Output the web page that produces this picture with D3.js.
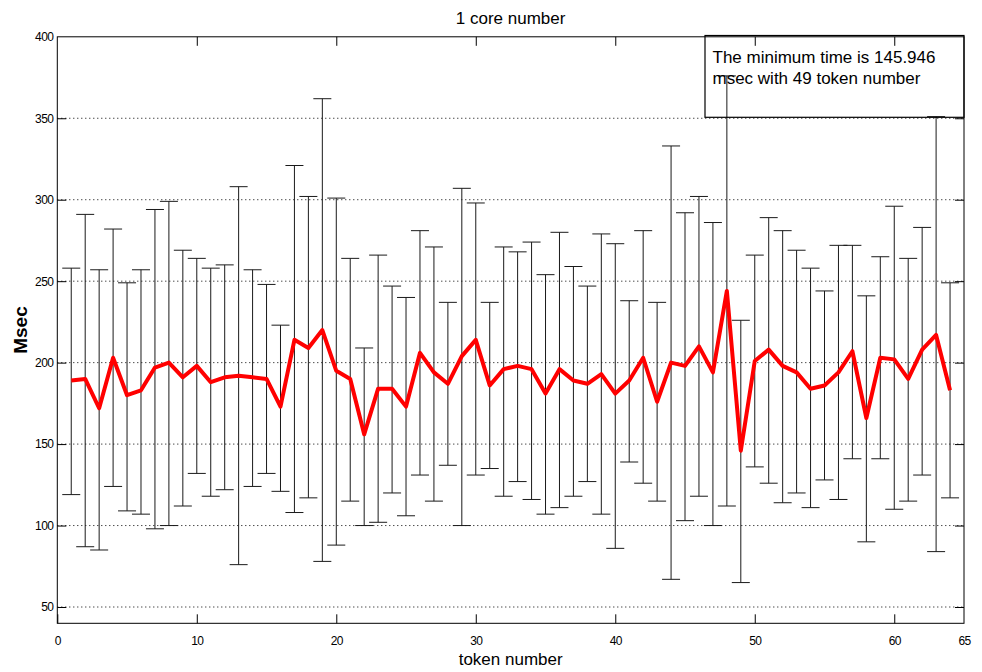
<!DOCTYPE html>
<html>
<head>
<meta charset="utf-8">
<script src="https://cdn.jsdelivr.net/npm/d3@7"></script>
<style>
  html, body { margin: 0; padding: 0; background: #fff; }
  svg { display: block; font-family: "Liberation Sans", Arial, sans-serif; }
</style>
</head>
<body>
<svg id="chart" width="982" height="672"></svg>
<script>
// Token numbers 1..64
const tokens = d3.range(1, 65);

// Mean execution time per token number (msec)
const meanTime = [
  189, 190, 172, 203, 180, 183, 197, 200, 191, 198,
  188, 191, 192, 191, 190, 173, 214, 209, 220, 195,
  190, 156, 184, 184, 173, 206, 194, 187, 204, 214,
  186, 196, 198, 196, 181, 196, 189, 187, 193, 181,
  189, 203, 176, 200, 198, 210, 194, 244, 145.946, 201,
  208, 198, 194, 184, 186, 194, 207, 166, 203, 202,
  190, 208, 217, 183
];

// Upper end of each error bar (msec)
const upperTime = [
  258, 291, 257, 282, 249, 257, 294, 299, 269, 264,
  258, 260, 308, 257, 248, 223, 321, 302, 362, 301,
  264, 209, 266, 247, 240, 281, 271, 237, 307, 298,
  237, 271, 268, 274, 254, 280, 259, 247, 279, 273,
  238, 281, 237, 333, 292, 302, 286, 376, 226, 266,
  289, 281, 269, 258, 244, 272, 272, 241, 265, 296,
  264, 283, 351, 249
];

// Lower end of each error bar (msec)
const lowerTime = [
  119, 87, 85, 124, 109, 107, 98, 100, 112, 132,
  118, 122, 76, 124, 132, 121, 108, 117, 78, 88,
  115, 100, 102, 120, 106, 131, 115, 137, 100, 131,
  135, 118, 127, 116, 107, 111, 118, 127, 107, 86,
  139, 126, 115, 67, 103, 118, 100, 112, 65, 136,
  126, 114, 120, 111, 128, 116, 141, 90, 141, 110,
  115, 131, 84, 117
];

// Axis ticks
const xTicks = [0, 10, 20, 30, 40, 50, 60, 65];
const yTicks = [50, 100, 150, 200, 250, 300, 350, 400];
const xDomain = [0, 65];
const yDomain = [40, 400];

const titleText = "1 core number";
const xLabelText = "token number";
const yLabelText = "Msec";
const noteLines = ["The minimum time is 145.946", "msec with 49 token number"];

const data = tokens.map((t, i) => ({ t, mean: meanTime[i], hi: upperTime[i], lo: lowerTime[i] }));

const svg = d3.select("#chart");
const plotL = 57.3, plotR = 964, plotT = 36.8, plotB = 623.3;

const x = d3.scaleLinear().domain(xDomain).range([plotL, plotR]);
const y = d3.scaleLinear().domain(yDomain).range([plotB, plotT]);

// Horizontal dotted grid
svg.append("g")
  .selectAll("line")
  .data(yTicks.filter(v => v < yDomain[1]))
  .join("line")
  .attr("x1", plotL).attr("x2", plotR)
  .attr("y1", d => y(d)).attr("y2", d => y(d))
  .attr("stroke", "#000")
  .attr("stroke-width", 1)
  .attr("stroke-dasharray", "1,3");

// Error bars
const capHalf = 9;
const eb = svg.append("g").attr("stroke", "#1a1a1a").attr("stroke-width", 1).attr("fill", "none");
eb.selectAll("path")
  .data(data)
  .join("path")
  .attr("d", d => {
    const cx = x(d.t), yh = y(d.hi), yl = y(d.lo);
    return `M${cx},${yl}V${yh}` +
           `M${cx - capHalf},${yh}H${cx + capHalf}` +
           `M${cx - capHalf},${yl}H${cx + capHalf}`;
  });

// Mean line
svg.append("path")
  .datum(data)
  .attr("fill", "none")
  .attr("stroke", "#ff0000")
  .attr("stroke-width", 4)
  .attr("stroke-linejoin", "round")
  .attr("d", d3.line().x(d => x(d.t)).y(d => y(d.mean)));

// Axes: box with inward ticks on all four sides
const tickLen = 9;
const axisFont = "12px";

const bottomAxis = d3.axisBottom(x).tickValues(xTicks).tickSizeInner(-tickLen).tickSizeOuter(0).tickPadding(tickLen + 4).tickFormat(d3.format("d"));
const gB = svg.append("g").attr("transform", `translate(0,${plotB})`).call(bottomAxis);
gB.selectAll(".tick line").filter(d => d === 65).remove();

const topAxis = d3.axisTop(x).tickValues(xTicks.filter(v => v !== 65)).tickSizeInner(-tickLen).tickSizeOuter(0).tickFormat("");
const gT = svg.append("g").attr("transform", `translate(0,${plotT})`).call(topAxis);

const leftAxis = d3.axisLeft(y).tickValues(yTicks).tickSizeInner(-tickLen).tickSizeOuter(0).tickPadding(4).tickFormat(d3.format("d"));
const gL = svg.append("g").attr("transform", `translate(${plotL},0)`).call(leftAxis);

const rightAxis = d3.axisRight(y).tickValues(yTicks).tickSizeInner(-tickLen).tickSizeOuter(0).tickFormat("");
const gR = svg.append("g").attr("transform", `translate(${plotR},0)`).call(rightAxis);

[gB, gT, gL, gR].forEach(g => {
  g.select(".domain").remove();
  g.selectAll(".tick line").attr("stroke", "#000");
  g.selectAll("text").attr("font-size", axisFont).attr("fill", "#000")
    .attr("font-family", "'Liberation Sans', Arial, sans-serif")
    .attr("letter-spacing", "-0.6px");
});
gT.selectAll(".tick line").filter(d => d === 0).remove();
gL.selectAll(".tick line").filter(d => d === 400).remove();
gR.selectAll(".tick line").filter(d => d === 400).remove();

// Plot box
svg.append("rect")
  .attr("x", plotL).attr("y", plotT)
  .attr("width", plotR - plotL).attr("height", plotB - plotT)
  .attr("fill", "none").attr("stroke", "#000").attr("stroke-width", 1);

// Title and axis labels
svg.append("text")
  .attr("x", (plotL + plotR) / 2).attr("y", 24)
  .attr("text-anchor", "middle")
  .attr("font-size", "17px")
  .text(titleText);

svg.append("text")
  .attr("x", (plotL + plotR) / 2).attr("y", 665)
  .attr("text-anchor", "middle")
  .attr("font-size", "17px")
  .text(xLabelText);

svg.append("text")
  .attr("transform", `translate(27,${(plotT + plotB) / 2}) rotate(-90)`)
  .attr("text-anchor", "middle")
  .attr("font-size", "19px")
  .attr("font-weight", "bold")
  .text(yLabelText);

// Annotation box with the minimum
const noteX0 = 705, noteX1 = plotR, noteY0 = 35.5, noteY1 = 117.3;
svg.append("rect")
  .attr("x", noteX0).attr("y", noteY0)
  .attr("width", noteX1 - noteX0).attr("height", noteY1 - noteY0)
  .attr("fill", "none").attr("stroke", "#000").attr("stroke-width", 1.2);

svg.append("g")
  .selectAll("text")
  .data(noteLines)
  .join("text")
  .attr("x", 712.5)
  .attr("y", (d, i) => 63 + i * 21)
  .attr("font-size", "17px")
  .attr("fill", "#000")
  .text(d => d);
</script>
</body>
</html>
